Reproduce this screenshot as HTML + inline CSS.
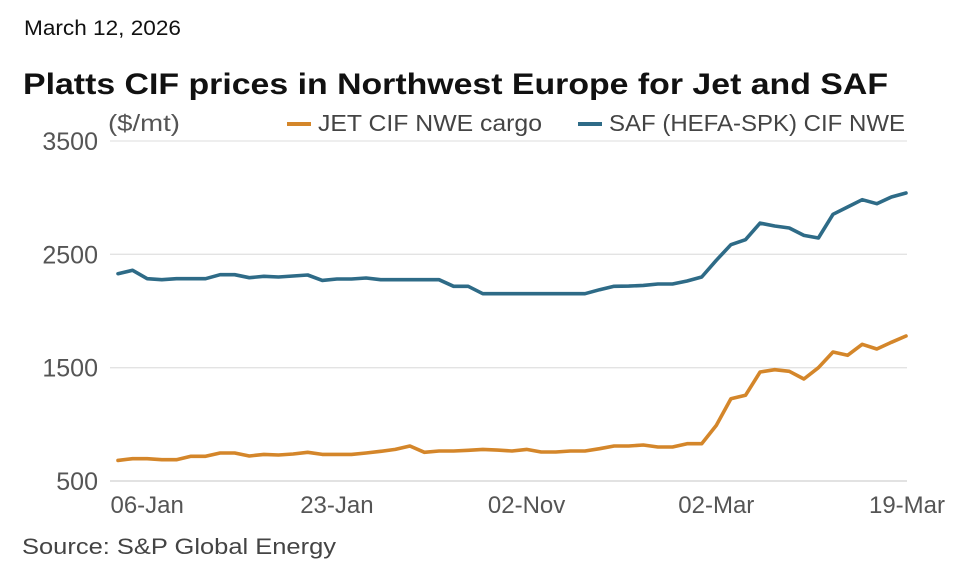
<!DOCTYPE html>
<html><head><meta charset="utf-8"><style>
html,body{margin:0;padding:0;background:#fff;}
svg{display:block;font-family:"Liberation Sans",sans-serif;}
</style></head><body>
<svg id="chart" width="978" height="577" viewBox="0 0 978 577">
<text x="24" y="35" font-size="21" fill="#111" textLength="157" lengthAdjust="spacingAndGlyphs">March 12, 2026</text>
<text x="23" y="94" font-size="30" font-weight="bold" fill="#111" textLength="865" lengthAdjust="spacingAndGlyphs">Platts CIF prices in Northwest Europe for Jet and SAF</text>
<text x="108" y="131" font-size="23" fill="#555" textLength="72" lengthAdjust="spacingAndGlyphs">($/mt)</text>
<g>
<rect x="287" y="122" width="24" height="4" fill="#d4862a"/>
<text x="318" y="131" font-size="23" fill="#444" textLength="224" lengthAdjust="spacingAndGlyphs">JET CIF NWE cargo</text>
</g>
<g>
<rect x="578" y="122" width="24" height="4" fill="#2e6b87"/>
<text x="609" y="131" font-size="23" fill="#444" textLength="296" lengthAdjust="spacingAndGlyphs">SAF (HEFA-SPK) CIF NWE</text>
</g>
<g id="grid"></g><g id="ylabels"></g><g id="xlabels"></g><g id="lines"></g>
<text x="22" y="554" font-size="22" fill="#444" textLength="314" lengthAdjust="spacingAndGlyphs">Source: S&amp;P Global Energy</text>
</svg>
<script>
const yTicks=[500,1500,2500,3500];
const xTickLabels=["06-Jan","23-Jan","02-Nov","02-Mar","19-Mar"];
const xTickIndex=[2,15,28,41,54];
const jet=[682,697,697,688,688,718,718,747,747,721,735,729,738,753,735,735,735,747,762,779,809,753,765,765,771,779,773,765,779,756,756,765,765,785,809,809,818,800,800,829,829,991,1226,1256,1462,1482,1468,1400,1500,1638,1609,1706,1665,1724,1779];
const saf=[2329,2359,2285,2276,2285,2285,2285,2320,2320,2294,2306,2300,2309,2318,2270,2282,2282,2291,2276,2276,2276,2276,2276,2218,2218,2153,2153,2153,2153,2153,2153,2153,2153,2188,2218,2220,2226,2238,2238,2265,2300,2447,2585,2629,2776,2750,2732,2667,2644,2853,2918,2982,2947,3006,3041];
const NS="http://www.w3.org/2000/svg";
const X0=118,X1=906,Y0=481,Y1=141;
function xs(i){return X0+(X1-X0)*i/(jet.length-1);}
function ys(v){return Y0-(v-500)/3000*(Y0-Y1);}
function mk(t,a,p){const e=document.createElementNS(NS,t);for(const k in a)e.setAttribute(k,a[k]);document.getElementById(p).appendChild(e);return e;}
yTicks.forEach(v=>{
 const l=mk('line',{x1:110,x2:907,y1:ys(v),y2:ys(v),stroke:v===500?'#d0d0d0':'#e3e3e3','stroke-width':1.3},'grid');
 
 
 const t=mk('text',{x:98,y:ys(v)+9,'font-size':25,fill:'#555','text-anchor':'end'},'ylabels');
 t.textContent=v;
 
 
});
xTickLabels.forEach((s,k)=>{
 let anchor='middle',x=xs(xTickIndex[k]);
 if(k===xTickLabels.length-1){anchor='end';x=945;}
 const t=mk('text',{x:x,y:513,'font-size':24,fill:'#555','text-anchor':anchor},'xlabels');
 t.textContent=s;
 
 
});
function line(arr,color,name){
 const d=arr.map((v,i)=>(i?'L':'M')+xs(i).toFixed(1)+','+ys(v).toFixed(1)).join(' ');
 const p=mk('path',{d:d,fill:'none',stroke:color,'stroke-width':3.6,'stroke-linejoin':'round','stroke-linecap':'round'},'lines');
 
 
}
line(jet,'#d4862a','jet-line');
line(saf,'#2e6b87','saf-line');
</script>
</body></html>
